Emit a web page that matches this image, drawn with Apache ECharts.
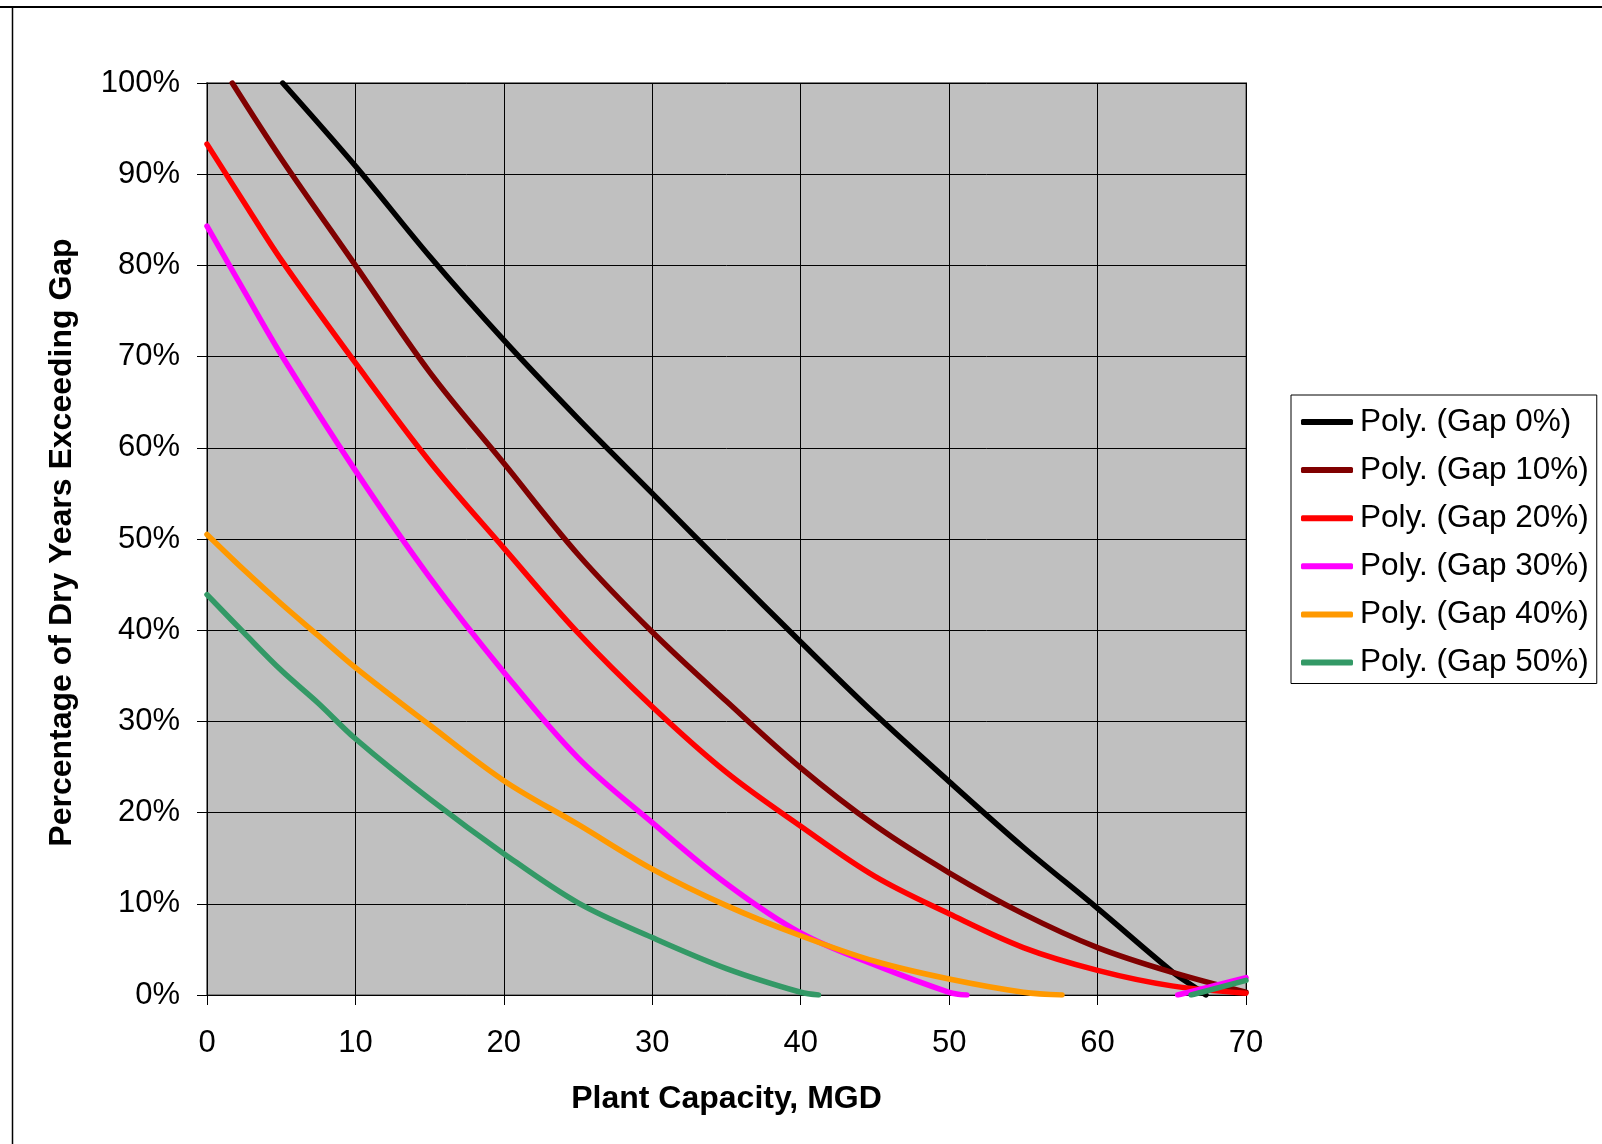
<!DOCTYPE html>
<html>
<head>
<meta charset="utf-8">
<script src="https://cdn.jsdelivr.net/npm/echarts@6/dist/echarts.min.js"></script>
<style>
html,body{margin:0;padding:0;background:#fff;}
#chart{width:1602px;height:1144px;}
</style>
</head>
<body>
<div id="chart"></div>
<script>
// ---- Data ----
const seriesNames = ['Poly. (Gap 0%)', 'Poly. (Gap 10%)', 'Poly. (Gap 20%)', 'Poly. (Gap 30%)', 'Poly. (Gap 40%)', 'Poly. (Gap 50%)'];
const seriesColors = ['#000000', '#800000', '#FF0000', '#FF00FF', '#FF9900', '#339966'];

const gap0X = [5.1, 10, 15, 20, 25, 30, 35, 40, 45, 50, 55, 60, 65, 66.5, 67.3];
const gap0Y = [100, 90.9, 81.0, 71.8, 63.2, 55.0, 46.8, 38.7, 30.8, 23.4, 16.2, 9.5, 2.6, 0.9, 0];

const gap10X = [1.7, 5, 10, 15, 20, 25, 30, 35, 40, 45, 50, 55, 60, 65, 70];
const gap10Y = [100, 91.7, 80.0, 68.3, 58.3, 48.3, 39.8, 32.2, 24.9, 18.6, 13.4, 8.9, 5.2, 2.5, 0.3];

const gap20X = [0, 2.5, 5, 10, 15, 20, 25, 30, 35, 40, 45, 50, 55, 60, 65, 70];
const gap20Y = [93.3, 86.9, 80.6, 69.3, 58.5, 49.0, 39.7, 31.6, 24.4, 18.5, 13.0, 8.9, 5.2, 2.7, 1.0, 0.2];

const gap30X = [0, 2.5, 5, 10, 15, 20, 25, 30, 35, 40, 45, 50, 51.2, 58, 65.4, 70];
const gap30Y = [84.3, 77.2, 70.2, 57.5, 45.8, 35.4, 26.0, 18.9, 12.2, 6.8, 3.3, 0.3, 0, null, 0, 1.9];

const gap40X = [0, 2.5, 5, 7.5, 10, 15, 20, 25, 30, 35, 40, 45, 50, 55, 57.6];
const gap40Y = [50.5, 46.6, 42.9, 39.4, 35.9, 29.6, 23.5, 18.7, 13.8, 9.8, 6.5, 3.7, 1.75, 0.3, 0];

const gap50X = [0, 2.5, 5, 7.5, 10, 15, 20, 25, 30, 35, 40, 41.2, 55, 66.3, 70];
const gap50Y = [43.9, 39.7, 35.6, 32.0, 28.1, 21.5, 15.5, 10.1, 6.3, 2.9, 0.3, 0, null, 0, 1.6];

const xTicks = [0, 10, 20, 30, 40, 50, 60, 70];
const yTicks = [0, 10, 20, 30, 40, 50, 60, 70, 80, 90, 100];

const xTitle = 'Plant Capacity, MGD';
const yTitle = 'Percentage of Dry Years Exceeding Gap';

// ---- Build ----
const FONT = '"Liberation Sans", Arial, Helvetica, sans-serif';
const allX = [gap0X, gap10X, gap20X, gap30X, gap40X, gap50X];
const allY = [gap0Y, gap10Y, gap20Y, gap30Y, gap40Y, gap50Y];

function pairs(xs, ys) {
  return xs.map((x, i) => [x, ys[i] === null ? '-' : ys[i]]);
}

const series = seriesNames.map((name, i) => ({
  name: name,
  type: 'line',
  data: pairs(allX[i], allY[i]),
  smooth: 0.35,
  showSymbol: false,
  symbol: 'none',
  connectNulls: false,
  clip: true,
  lineStyle: { color: seriesColors[i], width: 5.5, cap: 'round', join: 'round' },
  itemStyle: { color: seriesColors[i] },
  emphasis: { disabled: true },
  z: 3 + i
}));

const chart = echarts.init(document.getElementById('chart'), null, { renderer: 'canvas' });
chart.setOption({
  animation: false,
  backgroundColor: '#ffffff',
  textStyle: { fontFamily: FONT },
  grid: {
    left: 207, top: 83, width: 1039, height: 912,
    show: true, backgroundColor: '#C0C0C0', borderColor: '#808080', borderWidth: 2
  },
  xAxis: {
    type: 'value', min: xTicks[0], max: xTicks[xTicks.length - 1], interval: 10,
    axisLine: { show: true, onZero: false, lineStyle: { color: '#000', width: 1 } },
    axisTick: { show: true, inside: false, length: 10, lineStyle: { color: '#000', width: 1 } },
    axisLabel: { fontSize: 31, color: '#000', margin: 33, fontFamily: FONT },
    splitLine: { show: true, lineStyle: { color: '#000', width: 1 } },
    name: xTitle, nameLocation: 'middle', nameGap: 88,
    nameTextStyle: { fontSize: 32, fontWeight: 'bold', color: '#000', fontFamily: FONT }
  },
  yAxis: {
    type: 'value', min: yTicks[0], max: yTicks[yTicks.length - 1], interval: 10,
    axisLine: { show: true, onZero: false, lineStyle: { color: '#000', width: 1 } },
    axisTick: { show: true, inside: false, length: 10, lineStyle: { color: '#000', width: 1 } },
    axisLabel: { fontSize: 31, color: '#000', margin: 27, fontFamily: FONT, formatter: '{value}%' },
    splitLine: { show: true, lineStyle: { color: '#000', width: 1 } },
    name: yTitle, nameLocation: 'middle', nameGap: 129, nameRotate: 90,
    nameTextStyle: { fontSize: 32, fontWeight: 'bold', color: '#000', fontFamily: FONT, padding: [0, 7, 0, 0] }
  },
  legend: {
    orient: 'vertical', left: 1291, top: 395,
    padding: [11, 8, 5, 10],
    itemWidth: 52, itemHeight: 6, itemGap: 16.1,
    icon: 'roundRect',
    borderColor: '#000', borderWidth: 1, backgroundColor: '#fff',
    textStyle: { fontSize: 31.5, color: '#000', fontFamily: FONT, padding: [0, 0, 0, 2] },
    data: seriesNames
  },
  graphic: [
    { type: 'line', shape: { x1: 0, y1: 7, x2: 1602, y2: 7 }, style: { stroke: '#000', lineWidth: 2 }, silent: true },
    { type: 'line', shape: { x1: 12.5, y1: 7, x2: 12.5, y2: 1144 }, style: { stroke: '#000', lineWidth: 1.5 }, silent: true }
  ],
  series: series
});
</script>
</body>
</html>
